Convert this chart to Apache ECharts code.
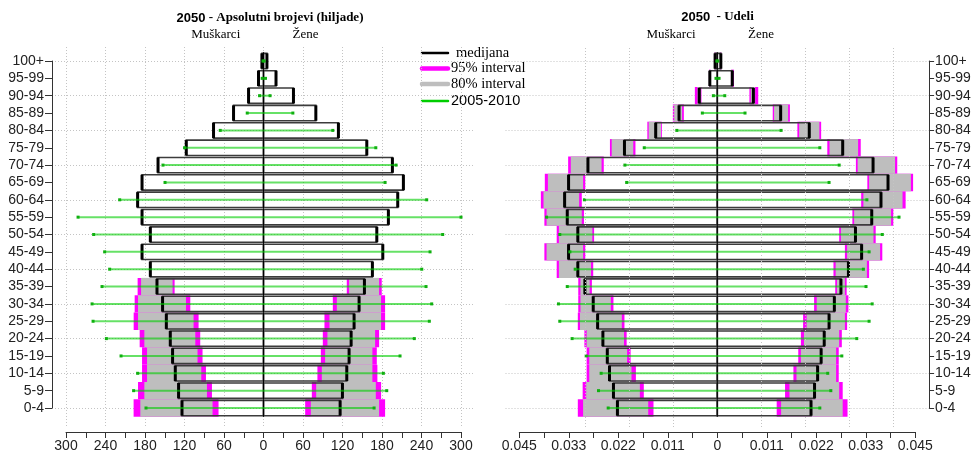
<!DOCTYPE html>
<html><head><meta charset="utf-8">
<script src="https://cdn.jsdelivr.net/npm/echarts@6/dist/echarts.min.js"></script>
<style>html,body{margin:0;padding:0;background:#fff}#c{width:975px;height:455px}</style>
</head><body><div id="c"></div>
<script>
// ---------- DATA ----------
const ages = ['0-4','5-9','10-14','15-19','20-24','25-29','30-34','35-39','40-44','45-49','50-54','55-59','60-64','65-69','70-74','75-79','80-84','85-89','90-94','95-99','100+'];

// Left panel: absolute numbers (thousands)
const absMaleMedian   = [123.8,129.0,134.0,138.1,141.6,147.6,153.3,161.8,171.9,184.5,171.9,184.5,191.2,184.5,160.2,117.3,75.9,45.5,22.7,7.6,2.4];
const absFemaleMedian = [116.4,119.9,126.5,130.0,133.1,137.6,145.2,153.3,165.4,181.2,172.1,189.7,203.9,212.5,195.8,156.9,113.8,79.5,45.5,19.0,5.2];
const absMaleL95   = [68.3,78.3,87.4,92.6,96.1,98.6,111.2,135.0,null,null,null,null,null,null,null,null,null,null,null,null,null];
const absMaleL80   = [77.4,85.9,94.5,100.2,103.6,106.2,117.8,138.1,null,null,null,null,null,null,null,null,null,null,null,null,null];
const absMaleU80   = [187.1,181.0,176.9,176.9,181.0,190.6,190.6,186.0,null,null,null,null,null,null,null,null,null,null,null,null,null];
const absMaleU95   = [197.3,190.6,184.5,184.5,188.1,197.2,195.7,191.2,null,null,null,null,null,null,null,null,null,null,null,null,null];
const absFemaleL95 = [63.3,73.4,81.9,87.1,90.1,92.6,105.3,126.5,null,null,null,null,null,null,null,null,null,null,null,null,null];
const absFemaleL80 = [71.9,80.0,88.6,93.6,97.1,100.2,111.4,130.0,null,null,null,null,null,null,null,null,null,null,null,null,null];
const absFemaleU80 = [175.6,170.6,165.4,165.4,169.5,178.6,178.6,175.6,null,null,null,null,null,null,null,null,null,null,null,null,null];
const absFemaleU95 = [184.7,178.6,173.0,172.1,175.6,184.7,184.7,179.6,null,null,null,null,null,null,null,null,null,null,null,null,null];
const absMalePast   = [178.5,197.3,191.2,216.4,238.7,258.9,260.4,245.3,233.7,241.3,258.0,281.7,218.5,149.6,152.7,119.9,65.7,24.7,6.0,2.0,0.8];
const absFemalePast = [168.0,187.2,182.1,207.4,229.1,251.9,255.5,246.9,240.4,253.0,272.2,300.0,247.9,184.7,201.4,170.6,105.3,44.6,10.0,3.0,1.0];

// Right panel: shares
const shareMaleMedian   = [0.0227,0.0236,0.0245,0.0250,0.0260,0.0272,0.0282,0.0301,0.0317,0.0338,0.0317,0.0341,0.0347,0.0338,0.0294,0.0211,0.0140,0.0087,0.0041,0.0017,0.0005];
const shareMaleL95      = [0.0145,0.0167,0.0185,0.0197,0.0206,0.0211,0.0236,0.0285,0.0282,0.0300,0.0280,0.0303,0.0308,0.0300,0.0258,0.0186,0.0126,0.0076,0.0036,0.0015,0.0004];
const shareMaleL80      = [0.0157,0.0176,0.0195,0.0205,0.0212,0.0217,0.0242,0.0290,0.0287,0.0305,0.0284,0.0308,0.0314,0.0305,0.0263,0.0191,0.0128,0.0080,0.0038,0.0016,0.00045];
const shareMaleU80      = [0.0305,0.0298,0.0291,0.0291,0.0297,0.0312,0.0311,0.0311,0.0360,0.0388,0.0360,0.0388,0.0395,0.0385,0.0333,0.0240,0.0156,0.0098,0.0045,0.0018,0.00055];
const shareMaleU95      = [0.0317,0.0306,0.0297,0.0297,0.0302,0.0317,0.0316,0.0316,0.0365,0.0393,0.0365,0.0393,0.0401,0.0392,0.0339,0.0244,0.0159,0.0101,0.0051,0.0019,0.0006];
const shareFemaleMedian = [0.0213,0.0221,0.0228,0.0236,0.0243,0.0254,0.0266,0.0281,0.0298,0.0328,0.0314,0.0351,0.0372,0.0388,0.0354,0.0285,0.0209,0.0144,0.0082,0.0034,0.0008];
const shareFemaleL95    = [0.0135,0.0154,0.0173,0.0184,0.0190,0.0195,0.0220,0.0268,0.0264,0.0290,0.0277,0.0307,0.0327,0.0341,0.0315,0.0250,0.0182,0.0126,0.0073,0.0031,0.0007];
const shareFemaleL80    = [0.0145,0.0164,0.0180,0.0190,0.0197,0.0203,0.0226,0.0272,0.0269,0.0295,0.0281,0.0311,0.0332,0.0345,0.0319,0.0255,0.0186,0.0129,0.0076,0.0032,0.00075];
const shareFemaleU80    = [0.0285,0.0277,0.0270,0.0270,0.0277,0.0290,0.0292,0.0290,0.0340,0.0370,0.0355,0.0395,0.0421,0.0440,0.0404,0.0320,0.0232,0.0161,0.0086,0.0036,0.00085];
const shareFemaleU95    = [0.0296,0.0285,0.0276,0.0276,0.0283,0.0295,0.0298,0.0294,0.0345,0.0375,0.0360,0.0400,0.0428,0.0445,0.0409,0.0326,0.0236,0.0165,0.0093,0.0038,0.0009];
const shareMalePast     = [0.0248,0.0270,0.0264,0.0298,0.0330,0.0358,0.0361,0.0341,0.0323,0.0335,0.0358,0.0388,0.0302,0.0206,0.0210,0.0166,0.0092,0.0034,0.0009,0.0003,0.0001];
const shareFemalePast   = [0.0233,0.0258,0.0251,0.0283,0.0317,0.0345,0.0352,0.0338,0.0332,0.0345,0.0375,0.0413,0.0340,0.0254,0.0277,0.0233,0.0145,0.0063,0.0017,0.0004,0.0001];

// Tick labels
const leftTickLabels  = ['300','240','180','120','60','0','60','120','180','240','300'];
const rightTickLabels = ['0.045','0.033','0.022','0.011','0','0.011','0.022','0.033','0.045'];
const rightGridValues = [-0.0329,-0.0220,-0.0109,0.0063,0.0171,0.0280,0.0391];

// Texts
const leftTitleYear = '2050', leftTitleRest = '- Apsolutni brojevi (hiljade)';
const rightTitleYear = '2050', rightTitleRest = '  - Udeli';
const maleLabel = 'Muškarci', femaleLabel = 'Žene';
const legendLabels = ['medijana','95% interval','80% interval','2005-2010'];

// ---------- COLOURS ----------
const C95 = '#ff00ff', C80 = '#bebebe', CMED = '#000000', CPAST = '#00cd00';

// ---------- RENDERERS ----------
function intervalRender(color){
  return function(params, api){
    const i = api.value(0);
    const mL = api.value(1), mU = api.value(2), fL = api.value(3), fU = api.value(4);
    if (isNaN(mL) || isNaN(mU)) return null;
    const h = api.size([0,1])[1];
    const a1 = api.coord([-mU, i]), a2 = api.coord([-mL, i]);
    const b1 = api.coord([fL, i]), b2 = api.coord([fU, i]);
    return {type:'group', children:[
      {type:'rect', shape:{x:a1[0], y:a1[1]-h/2, width:a2[0]-a1[0], height:h}, style:{fill:color}},
      {type:'rect', shape:{x:b1[0], y:b1[1]-h/2, width:b2[0]-b1[0], height:h}, style:{fill:color}}
    ]};
  };
}
function medianRender(params, api){
  const i = api.value(0), m = api.value(1), f = api.value(2);
  const h = api.size([0,1])[1];
  const pm = api.coord([-m, i]), p0 = api.coord([0, i]), pf = api.coord([f, i]);
  const y0 = p0[1]-h/2+1, hh = h-2;
  return {type:'group', children:[
    {type:'rect', shape:{x:pm[0], y:y0, width:p0[0]-pm[0], height:hh}, style:{fill:null, stroke:'#3c3c3c', lineWidth:1.6}},
    {type:'rect', shape:{x:p0[0], y:y0, width:pf[0]-p0[0], height:hh}, style:{fill:null, stroke:'#3c3c3c', lineWidth:1.6}},
    {type:'line', shape:{x1:pm[0], y1:y0, x2:pm[0], y2:y0+hh}, style:{stroke:CMED, lineWidth:3}},
    {type:'line', shape:{x1:pf[0], y1:y0, x2:pf[0], y2:y0+hh}, style:{stroke:CMED, lineWidth:3}},
    {type:'line', shape:{x1:p0[0], y1:p0[1]-h/2, x2:p0[0], y2:p0[1]+h/2}, style:{stroke:'#000', lineWidth:1}}
  ]};
}
function pastRender(params, api){
  const i = api.value(0), m = api.value(1), f = api.value(2);
  const a = api.coord([-m, i]), b = api.coord([f, i]);
  return {type:'group', children:[
    {type:'line', shape:{x1:a[0], y1:a[1], x2:b[0], y2:b[1]}, style:{stroke:'rgba(0,205,0,0.6)', lineWidth:2}},
    {type:'rect', shape:{x:a[0]-1.5, y:a[1]-1.5, width:3, height:3}, style:{fill:'#10b010'}},
    {type:'rect', shape:{x:b[0]-1.5, y:b[1]-1.5, width:3, height:3}, style:{fill:'#10b010'}}
  ]};
}

function panelSeries(xi, yi, mMed, fMed, mL95, mU95, fL95, fU95, mL80, mU80, fL80, fU80, mPast, fPast){
  const idx = ages.map((a,i)=>i);
  const base = {type:'custom', xAxisIndex:xi, yAxisIndex:yi, silent:true, animation:false};
  return [
    Object.assign({}, base, {name:'95% interval', renderItem:intervalRender(C95), encode:{x:[1,2,3,4], y:0},
      data: idx.map(i=>[i, mL95[i], mU95[i], fL95[i], fU95[i]])}),
    Object.assign({}, base, {name:'80% interval', renderItem:intervalRender(C80), encode:{x:[1,2,3,4], y:0},
      data: idx.map(i=>[i, mL80[i], mU80[i], fL80[i], fU80[i]])}),
    Object.assign({}, base, {name:'medijana', renderItem:medianRender, encode:{x:[1,2], y:0},
      data: idx.map(i=>[i, mMed[i], fMed[i]])}),
    Object.assign({}, base, {name:'2005-2010', renderItem:pastRender, encode:{x:[1,2], y:0},
      data: idx.map(i=>[i, mPast[i], fPast[i]])})
  ];
}

// ---------- AXES ----------
const axisLineStyle = {color:'#333', width:1};
const tickLabelStyle = {fontFamily:'Liberation Sans', fontSize:14, color:'#222'};
const dotted = {type:[1,2], color:'#c4c4c4', width:1};

function visibleX(grid, min, max, interval, labels, showSplit){
  return {gridIndex:grid, type:'value', min:min, max:max, interval:interval, position:'bottom', offset:5,
    axisLine:{show:true, onZero:false, lineStyle:axisLineStyle},
    axisTick:{show:true, length:6, lineStyle:axisLineStyle},
    minorTick:{show:true, splitNumber:2, length:6, lineStyle:axisLineStyle},
    axisLabel:Object.assign({margin:7, formatter:(v)=>labels[Math.round((v-min)/interval)] || ''}, tickLabelStyle),
    splitLine:{show:showSplit, lineStyle:dotted}, minorSplitLine:{show:false}};
}
function hiddenX(grid, lim){
  return {gridIndex:grid, type:'value', min:-lim, max:lim, show:false, splitLine:{show:false}};
}
function catY(grid, pos, margin, tickLen){
  return {gridIndex:grid, type:'category', data:ages, boundaryGap:false, position:pos,
    axisLine:{show:true, onZero:false, lineStyle:axisLineStyle},
    axisTick:{show:true, length:tickLen, lineStyle:axisLineStyle, interval:0},
    axisLabel:Object.assign({margin:margin, interval:0}, tickLabelStyle),
    splitLine:{show:true, interval:(i)=> i % 2 === 0, lineStyle:dotted}};
}

const option = {
  backgroundColor:'#fff',
  animation:false,
  grid:[
    {left:66, top:47, width:395, height:380},
    {left:52, top:61, width:423, height:347},
    {left:519.3, top:47, width:396, height:380},
    {left:505.5, top:61, width:423.6, height:347}
  ],
  xAxis:[
    visibleX(0, -300, 300, 60, leftTickLabels, true),
    hiddenX(1, 321.27),
    visibleX(2, -0.045, 0.045, 0.01125, rightTickLabels, false),
    hiddenX(3, 0.048136)
  ],
  yAxis:[
    {gridIndex:0, type:'value', min:0, max:1, show:false, splitLine:{show:false}},
    catY(1, 'left', 8, 7),
    {gridIndex:2, type:'value', min:0, max:1, show:false, splitLine:{show:false}},
    catY(3, 'right', 6, 5)
  ],
  series: [].concat(
    [{type:'line', xAxisIndex:2, yAxisIndex:2, data:[[0,0.5]], showSymbol:false, lineStyle:{opacity:0}, silent:true,
      markLine:{silent:true, symbol:['none','none'], label:{show:false}, lineStyle:dotted, animation:false,
        data: rightGridValues.map(v=>({xAxis:v}))}}],
    panelSeries(1, 1, absMaleMedian, absFemaleMedian, absMaleL95, absMaleU95, absFemaleL95, absFemaleU95,
      absMaleL80, absMaleU80, absFemaleL80, absFemaleU80, absMalePast, absFemalePast),
    panelSeries(3, 3, shareMaleMedian, shareFemaleMedian, shareMaleL95, shareMaleU95, shareFemaleL95, shareFemaleU95,
      shareMaleL80, shareMaleU80, shareFemaleL80, shareFemaleU80, shareMalePast, shareFemalePast)
  ),
  graphic:[]
};

// Titles and sex labels
const titleRich = {
  a:{fontFamily:'Liberation Sans', fontWeight:'bold', fontSize:13, fill:'#000'},
  b:{fontFamily:'Liberation Serif', fontWeight:'bold', fontSize:13, fill:'#000'}
};
option.graphic.push(
  {type:'text', x:270, y:18, style:{text:'{a|'+leftTitleYear+'} {b|'+leftTitleRest+'}', rich:titleRich, align:'center', verticalAlign:'middle'}},
  {type:'text', x:717.5, y:17, style:{text:'{a|'+rightTitleYear+'}{b|'+rightTitleRest+'}', rich:titleRich, align:'center', verticalAlign:'middle'}},
  {type:'text', x:215.7, y:35, style:{text:maleLabel, font:'13px "Liberation Serif"', fill:'#000', align:'center', verticalAlign:'middle'}},
  {type:'text', x:305.5, y:35, style:{text:femaleLabel, font:'13px "Liberation Serif"', fill:'#000', align:'center', verticalAlign:'middle'}},
  {type:'text', x:671, y:35, style:{text:maleLabel, font:'13px "Liberation Serif"', fill:'#000', align:'center', verticalAlign:'middle'}},
  {type:'text', x:761, y:35, style:{text:femaleLabel, font:'13px "Liberation Serif"', fill:'#000', align:'center', verticalAlign:'middle'}}
);

// Legend
const legendColors = [CMED, C95, C80, CPAST];
const legendWidths = [2.5, 4.5, 4.5, 2.5];
const legendRowY = [53, 68.5, 84, 101];
const legendTextX = [456, 451, 451, 451];
const legendFonts = ['14.5px "Liberation Serif"','14.5px "Liberation Serif"','14.5px "Liberation Serif"','14.5px "Liberation Sans"'];
legendLabels.forEach((lab, k)=>{
  option.graphic.push(
    {type:'line', shape:{x1:422, y1:legendRowY[k], x2:448, y2:legendRowY[k]}, style:{stroke:legendColors[k], lineWidth:legendWidths[k], lineCap:'round'}},
    {type:'text', x:legendTextX[k], y:legendRowY[k], style:{text:lab, font:legendFonts[k], fill:'#000', verticalAlign:'middle'}}
  );
});

const chart = echarts.init(document.getElementById('c'));
chart.setOption(option);
</script>
</body></html>
